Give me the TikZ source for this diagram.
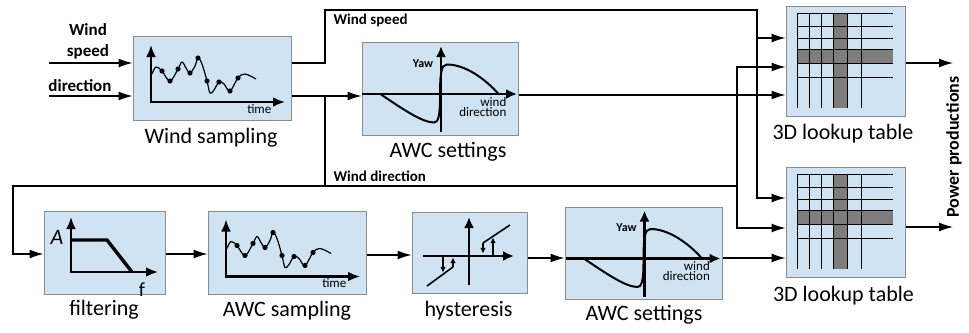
\documentclass[tikz,border=0pt]{standalone}
\usepackage{fontspec}
\setmainfont{Carlito}
\usetikzlibrary{arrows.meta}

\definecolor{boxfill}{RGB}{207,227,243}
\definecolor{boxline}{RGB}{140,140,140}
\definecolor{band}{RGB}{125,125,125}

\begin{document}
\begin{tikzpicture}[
		x=0.5pt, y=-0.5pt,
		>={Latex[length=7pt,width=4.5pt]},
		line width=0.65pt,
		box/.style={draw=boxline, fill=boxfill, line width=0.5pt, inner sep=0pt},
		boxlbl/.style={font=\fontsize{11}{13}\selectfont, anchor=base, inner sep=0pt},
		tag/.style={font=\bfseries\fontsize{7.5}{9}\selectfont, anchor=base west, inner sep=0pt},
		inlbl/.style={font=\bfseries\fontsize{8.5}{10.5}\selectfont, align=center, inner sep=0pt},
		tiny/.style={font=\fontsize{6.5}{5}\selectfont, inner sep=0pt},
		axis/.style={line width=1.2pt, {Latex[length=6pt,width=5pt]}-{Latex[length=6pt,width=5pt]}},
		axisr/.style={line width=1.1pt, -{Latex[length=5.5pt,width=5pt]}},
		small/.style={line width=0.7pt, -{Latex[length=2.8pt,width=2.8pt]}}
		]
		
		\useasboundingbox (0,0) rectangle (969,332);
		
		\node[box, minimum width=79pt, minimum height=42pt] (wsamp) at (212,78) {};
		\node[box, minimum width=78pt, minimum height=46.5pt] (awcA) at (440,88.5) {};
		\node[box, minimum width=59.5pt, minimum height=55pt] (tabA) at (845.5,61) {};
		\node[box, minimum width=59.5pt, minimum height=55pt] (tabB) at (845.5,222) {};
		\node[box, minimum width=60.5pt, minimum height=41.5pt] (filt) at (104.5,252.5) {};
		\node[box, minimum width=79pt, minimum height=41.5pt] (asamp) at (287,252.5) {};
		\node[box, minimum width=57.5pt, minimum height=40.5pt] (hyst) at (469.5,252.5) {};
		\node[box, minimum width=78.5pt, minimum height=46pt] (awcB) at (643.5,253) {};
		
		\node[boxlbl] (wsampL) at (211,143) {Wind sampling};
		\node[boxlbl] (awcAL) at (448,157) {AWC settings};
		\node[boxlbl] (tabAL) at (843,139) {3D lookup table};
		\node[boxlbl] (tabBL) at (843.5,301) {3D lookup table};
		\node[boxlbl] (filtL) at (104,315) {filtering};
		\node[boxlbl] (asampL) at (287,316) {AWC sampling};
		\node[boxlbl] (hystL) at (468.5,316) {hysteresis};
		\node[boxlbl] (awcBL) at (644,320) {AWC settings};
		
		% sampled signal
		\foreach \b in {wsamp,asamp} {
			\begin{scope}[shift={(\b.center)}]
				\draw[axis] (-61,-33) -- (-61,24) -- (73,24);
				\draw[line width=0.6pt] plot[smooth, tension=0.6] coordinates {
					(-60,-4) (-56,-11) (-50,-7) (-42,3) (-34,-9) (-30,-16) (-26,-10)
					(-22,-5) (-17,-12) (-14,-20) (-10,-14) (-5,3) (-2,15) (2,12)
					(7,4) (12,6) (18,13) (26,0) (33,-4) (44,1)};
				\foreach \x/\y in {-50/-7, -42/3, -34/-9, -22/-5, -14/-20, -5/3, 7/4, 18/13, 26/0}
					\fill (\x,\y) circle (1.3pt);
				\node[tiny, anchor=base east] (\b-time) at (60,35) {time};
			\end{scope}
		}
		
		% yaw curve
		\foreach \b in {awcA,awcB} {
			\begin{scope}[shift={(\b.center)}]
				\draw[axisr] (-78,5.5) -- (77,5.5);
				\draw[axisr] (1,43.5) -- (1,-42.5);
				\draw[line width=1pt] (-59,6) .. controls (-38,20) and (-18,34) .. (-6,34)
					.. controls (-2,34) and (0,28) .. (0,10)
					.. controls (0,-15) and (1,-24) .. (7,-24)
					.. controls (25,-24) and (45,-10) .. (59,6);
				\node[tiny, font=\bfseries\fontsize{6}{5}\selectfont] (\b-yaw) at (-17,-25) {Yaw};
				\node[tiny, align=right, anchor=north east] (\b-dir) at (67,8) {wind\\direction};
			\end{scope}
		}
		
		% lookup grid
		\foreach \b in {tabA,tabB} {
			\begin{scope}[shift={(\b.center)}]
				\fill[band] (-48.5,-12) rectangle (47.5,2);
				\fill[band] (-12.5,-48) rectangle (1.5,47);
				\foreach \x in {-48.5,-36.5,-24.5,-12.5,1.5,15.5}
					\draw[line width=0.5pt] (\x,-48) -- (\x,47);
				\foreach \y in {-48,-35,-23,-12,2,16}
					\draw[line width=0.5pt] (-48.5,\y) -- (47.5,\y);
			\end{scope}
		}
		
		\begin{scope}[shift={(filt.center)}]
			\draw[axis] (-33.5,-35.5) -- (-33.5,19.5) -- (53.5,19.5);
			\draw[line width=1.7pt] (-33.5,-12.5) -- (2.5,-12.5) -- (27.5,19.5);
			\node[font=\itshape\fontsize{11}{13}\selectfont, inner sep=0pt] (filt-a) at (-47.5,-15.5) {A};
			\node[font=\fontsize{10}{12}\selectfont, inner sep=0pt] (filt-f) at (37.5,37) {f};
		\end{scope}
		
		\begin{scope}[shift={(hyst.center)}]
			\draw[axisr] (-46.5,3.5) -- (44.5,3.5);
			\draw[axisr] (-0.5,32.5) -- (-0.5,-35.5);
			\draw[line width=0.8pt] (13.5,-9.5) -- (40.5,-27.5);
			\draw[line width=0.8pt] (-42.5,33.5) -- (-16.5,14.5);
			\draw[small] (13.5,-9.5) -- (13.5,1);
			\draw[small] (23.5,3.5) -- (23.5,-15);
			\draw[small] (-16.5,14.5) -- (-16.5,5);
			\draw[small] (-26.5,3.5) -- (-26.5,20);
		\end{scope}
		
		\path
		(49,63) coordinate (inS)
		(49,96) coordinate (inD)
		(tabA.west |- 0,38) coordinate (a1)
		(tabA.west |- 0,67) coordinate (a2)
		(tabA.west |- 0,95) coordinate (a3)
		(tabB.west |- 0,198) coordinate (b1)
		(tabB.west |- 0,228) coordinate (b2)
		(tabB.west |- 0,258) coordinate (b3)
		(953,63) coordinate (outA)
		(953,227) coordinate (outB)
		;
		
		\node[inlbl, anchor=south] (lspd) at (88,60) {Wind\\speed};
		\node[inlbl, anchor=base] (ldir) at (80,91) {direction};
		\node[tag] (tspd) at (333,25) {Wind speed};
		\node[tag] (tdir) at (333,181) {Wind direction};
		\node[font=\bfseries\fontsize{9}{11}\selectfont, rotate=90, inner sep=0pt] (power) at (954,147) {Power productions};
		
		\draw[->] (inS) -- (inS -| wsamp.west);
		\draw[->] (inD) -- (inD -| wsamp.west);
		
		\draw[->] (inS -| wsamp.east) -| (325,10) -| (757,198) -- (b1);
		\draw[->] (757,38) -- (a1);
		
		\draw[->] (inD -| wsamp.east) -- (inD -| awcA.west);
		\draw[->] (325,96) -- (325,186) -| (13,254) -- (filt.west |- 0,254);
		\draw (325,186) -- (737,186);
		\draw[->] (737,186) |- (a2);
		\draw[->] (737,186) |- (b2);
		
		\draw[->] (awcA.east |- a3) -- (a3);
		\draw[->] (filt.east |- 0,254) -- (asamp.west |- 0,254);
		\draw[->] (asamp.east |- 0,255) -- (hyst.west |- 0,255);
		\draw[->] (hyst.east |- 0,258) -- (awcB.west |- 0,258);
		\draw[->] (awcB.east |- b3) -- (b3);
		
		\draw[->] (tabA.east |- outA) -- (outA);
		\draw[->] (tabB.east |- outB) -- (outB);
		
	\end{tikzpicture}
\end{document}
